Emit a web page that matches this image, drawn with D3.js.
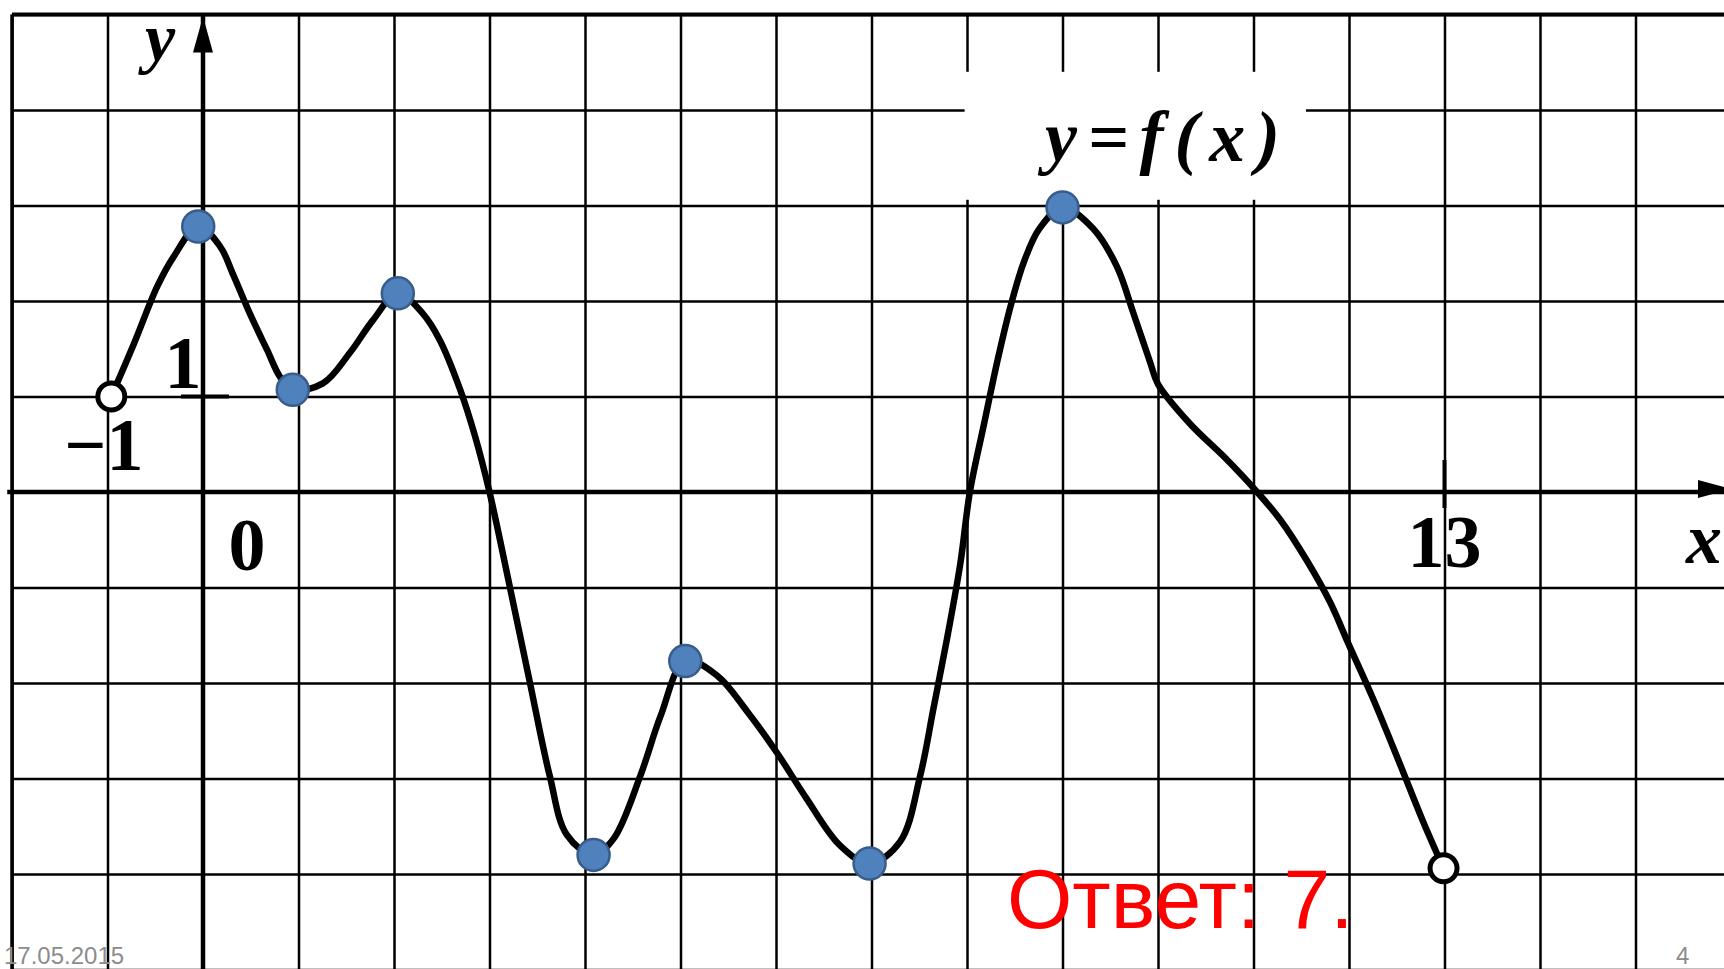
<!DOCTYPE html>
<html lang="ru">
<head>
<meta charset="UTF-8">
<title>y = f(x)</title>
<script src="https://d3js.org/d3.v7.min.js"></script>
<style>
    body { margin: 0; background: #fff; }
    svg { display: block; }
    .num { font-family: "Liberation Serif", serif; font-weight: bold; font-size: 74px; fill: #000; }
    .var { font-family: "Liberation Serif", serif; font-style: italic; font-weight: bold; font-size: 72px; fill: #000; }
    .grid line { stroke: #000; stroke-width: 2.5; }
</style>
</head>
<body>
<div id="chart"></div>
<script>
    // grid lines (one per unit)
    const gridX = [-2, -1, 0, 1, 2, 3, 4, 5, 6, 7, 8, 9, 10, 11, 12, 13, 14, 15];
    const gridY = [-5, -4, -3, -2, -1, 0, 1, 2, 3, 4, 5];

    // graph of y = f(x)
    const curvePoints = [
        [-0.96, 1.0], [-0.72, 1.56], [-0.48, 2.15], [-0.31, 2.46],
        [-0.05, 2.78], [0.18, 2.57], [0.31, 2.29], [0.49, 1.87], [0.67, 1.49],
        [0.81, 1.20], [0.94, 1.07], [1.26, 1.14], [1.54, 1.46], [1.78, 1.80],
        [2.04, 2.08], [2.30, 1.87], [2.48, 1.59], [2.69, 1.08], [2.85, 0.58],
        [3.00, 0.00], [3.21, -0.98], [3.42, -1.98], [3.63, -2.97], [3.81, -3.59],
        [4.09, -3.80], [4.30, -3.63], [4.58, -2.97], [4.79, -2.35], [5.05, -1.77],
        [5.38, -1.92], [5.70, -2.30], [6.01, -2.73], [6.32, -3.21], [6.67, -3.70],
        [6.98, -3.89], [7.30, -3.66], [7.51, -2.97], [7.65, -2.26], [7.79, -1.54],
        [7.93, -0.75], [8.03, 0.00], [8.18, 0.72], [8.32, 1.38], [8.46, 1.96],
        [8.60, 2.42], [8.76, 2.76], [9.00, 2.98], [9.32, 2.76], [9.57, 2.36],
        [9.74, 1.88], [9.92, 1.35], [10.00, 1.13], [10.33, 0.72], [10.72, 0.34],
        [11.02, 0.02], [11.28, -0.29], [11.56, -0.72], [11.80, -1.15], [11.99, -1.58],
        [12.25, -2.16], [12.53, -2.84], [12.78, -3.46], [12.99, -3.94]
    ];

    // extremum points (blue) and the open ends of the interval
    const extrema = [[-0.05, 2.78], [0.94, 1.07], [2.04, 2.08], [4.09, -3.80], [5.05, -1.77], [6.98, -3.89], [9.00, 2.98]];
    const openEnds = [[-0.96, 1.0], [12.99, -3.94]];

    const xTickValues = [-1, 0, 13];
    const xTickLabels = ["\u22121", "0", "13"];
    const yTickValues = [1];
    const yTickLabels = ["1"];

    const W = 1724, H = 969;

    const x = d3.scaleLinear().domain([-2, 16]).range([12, 1731]);
    const y = d3.scaleLinear().domain([-5, 5]).range([969.5, 14.5]);

    const svg = d3.select("#chart").append("svg")
        .attr("width", W)
        .attr("height", H);

    // vertical grid
    svg.append("g")
        .attr("class", "grid")
        .attr("transform", `translate(0,${y(-5)})`)
        .call(d3.axisBottom(x).tickValues(gridX).tickSize(-(y(-5) - y(5))).tickFormat(""))
        .call(g => g.select(".domain").remove());

    // horizontal grid
    svg.append("g")
        .attr("class", "grid")
        .attr("transform", `translate(${x(-2)},0)`)
        .call(d3.axisLeft(y).tickValues(gridY).tickSize(-(W - x(-2))).tickFormat(""))
        .call(g => g.select(".domain").remove());

    // heavier outer border (top, left)
    svg.append("line").attr("x1", x(-2)).attr("x2", W).attr("y1", y(5)).attr("y2", y(5))
        .attr("stroke", "#000").attr("stroke-width", 4);
    svg.append("line").attr("x1", x(-2)).attr("x2", x(-2)).attr("y1", y(5)).attr("y2", H)
        .attr("stroke", "#000").attr("stroke-width", 3.5);

    // blank area behind the caption
    svg.append("rect")
        .attr("x", x(7.975)).attr("y", y(4.4))
        .attr("width", x(11.55) - x(7.975)).attr("height", y(3.06) - y(4.4))
        .attr("fill", "#fff");

    // axes
    svg.append("line").attr("x1", x(-2.05)).attr("x2", W).attr("y1", y(0)).attr("y2", y(0))
        .attr("stroke", "#000").attr("stroke-width", 4.5);
    svg.append("line").attr("x1", x(0)).attr("x2", x(0)).attr("y1", y(5)).attr("y2", H)
        .attr("stroke", "#000").attr("stroke-width", 4.5);

    // arrow heads
    svg.append("path")
        .attr("d", `M${x(0)},${y(5) + 2} L${x(0) - 10},${y(5) + 38} L${x(0) + 10},${y(5) + 38} Z`)
        .attr("fill", "#000");
    svg.append("path")
        .attr("d", `M${W + 8},${y(0) - 3} L${W - 26},${y(0) - 12} L${W - 26},${y(0) + 6} Z`)
        .attr("fill", "#000");

    // unit ticks
    yTickValues.forEach(v => {
        svg.append("line").attr("x1", x(0) - 22).attr("x2", x(0) + 26).attr("y1", y(v)).attr("y2", y(v))
            .attr("stroke", "#000").attr("stroke-width", 4);
    });
    svg.append("line").attr("x1", x(13)).attr("x2", x(13)).attr("y1", y(0) - 32).attr("y2", y(0) + 16)
        .attr("stroke", "#000").attr("stroke-width", 4);

    // tick labels
    svg.append("text").attr("class", "num").attr("text-anchor", "end")
        .attr("x", x(xTickValues[0]) + 36).attr("y", y(0) - 22).text(xTickLabels[0]);
    svg.append("text").attr("class", "num").attr("text-anchor", "middle")
        .attr("x", x(xTickValues[1]) + 44).attr("y", y(0) + 78).text(xTickLabels[1]);
    svg.append("text").attr("class", "num").attr("text-anchor", "middle")
        .attr("x", x(xTickValues[2])).attr("y", y(0) + 75).text(xTickLabels[2]);
    svg.append("text").attr("class", "num").attr("text-anchor", "middle")
        .attr("x", x(0) - 20).attr("y", y(yTickValues[0]) - 9).text(yTickLabels[0]);

    // axis names
    svg.append("text").attr("class", "var").attr("x", 145).attr("y", 61)
        .style("font-size", "68px").text("y");
    svg.append("text").attr("class", "var").attr("x", 1686).attr("y", 563).text("x");
    svg.append("text").attr("class", "var")
        .attr("x", 1045).attr("y", 161)
        .attr("textLength", 235).attr("lengthAdjust", "spacing")
        .text("y=f(x)");

    // the graph
    const line = d3.line()
        .x(d => x(d[0]))
        .y(d => y(d[1]))
        .curve(d3.curveCatmullRom.alpha(0.5));

    svg.append("path")
        .datum(curvePoints)
        .attr("fill", "none")
        .attr("stroke", "#000")
        .attr("stroke-width", 6.5)
        .attr("stroke-linejoin", "round")
        .attr("stroke-linecap", "round")
        .attr("d", line);

    svg.selectAll(".open")
        .data(openEnds)
        .enter().append("circle")
        .attr("class", "open")
        .attr("cx", d => x(d[0]))
        .attr("cy", d => y(d[1]))
        .attr("r", 13.5)
        .attr("fill", "#fff")
        .attr("stroke", "#000")
        .attr("stroke-width", 5);

    svg.selectAll(".ext")
        .data(extrema)
        .enter().append("circle")
        .attr("class", "ext")
        .attr("cx", d => x(d[0]))
        .attr("cy", d => y(d[1]))
        .attr("r", 16)
        .attr("fill", "#4f81bd")
        .attr("stroke", "#385d8a")
        .attr("stroke-width", 2.5);

    // answer and slide footer
    svg.append("text")
        .attr("x", 1007).attr("y", 928)
        .attr("font-family", "'Liberation Sans', Arial, sans-serif")
        .attr("font-size", 84)
        .attr("fill", "#ff0000")
        .text("Ответ: 7.");

    svg.append("text")
        .attr("x", 4).attr("y", 964)
        .attr("font-family", "'Liberation Sans', Arial, sans-serif")
        .attr("font-size", 24)
        .attr("fill", "#8c8c8c")
        .text("17.05.2015");
    svg.append("text")
        .attr("x", 1676).attr("y", 964)
        .attr("font-family", "'Liberation Sans', Arial, sans-serif")
        .attr("font-size", 24)
        .attr("fill", "#8c8c8c")
        .text("4");
</script>
</body>
</html>
